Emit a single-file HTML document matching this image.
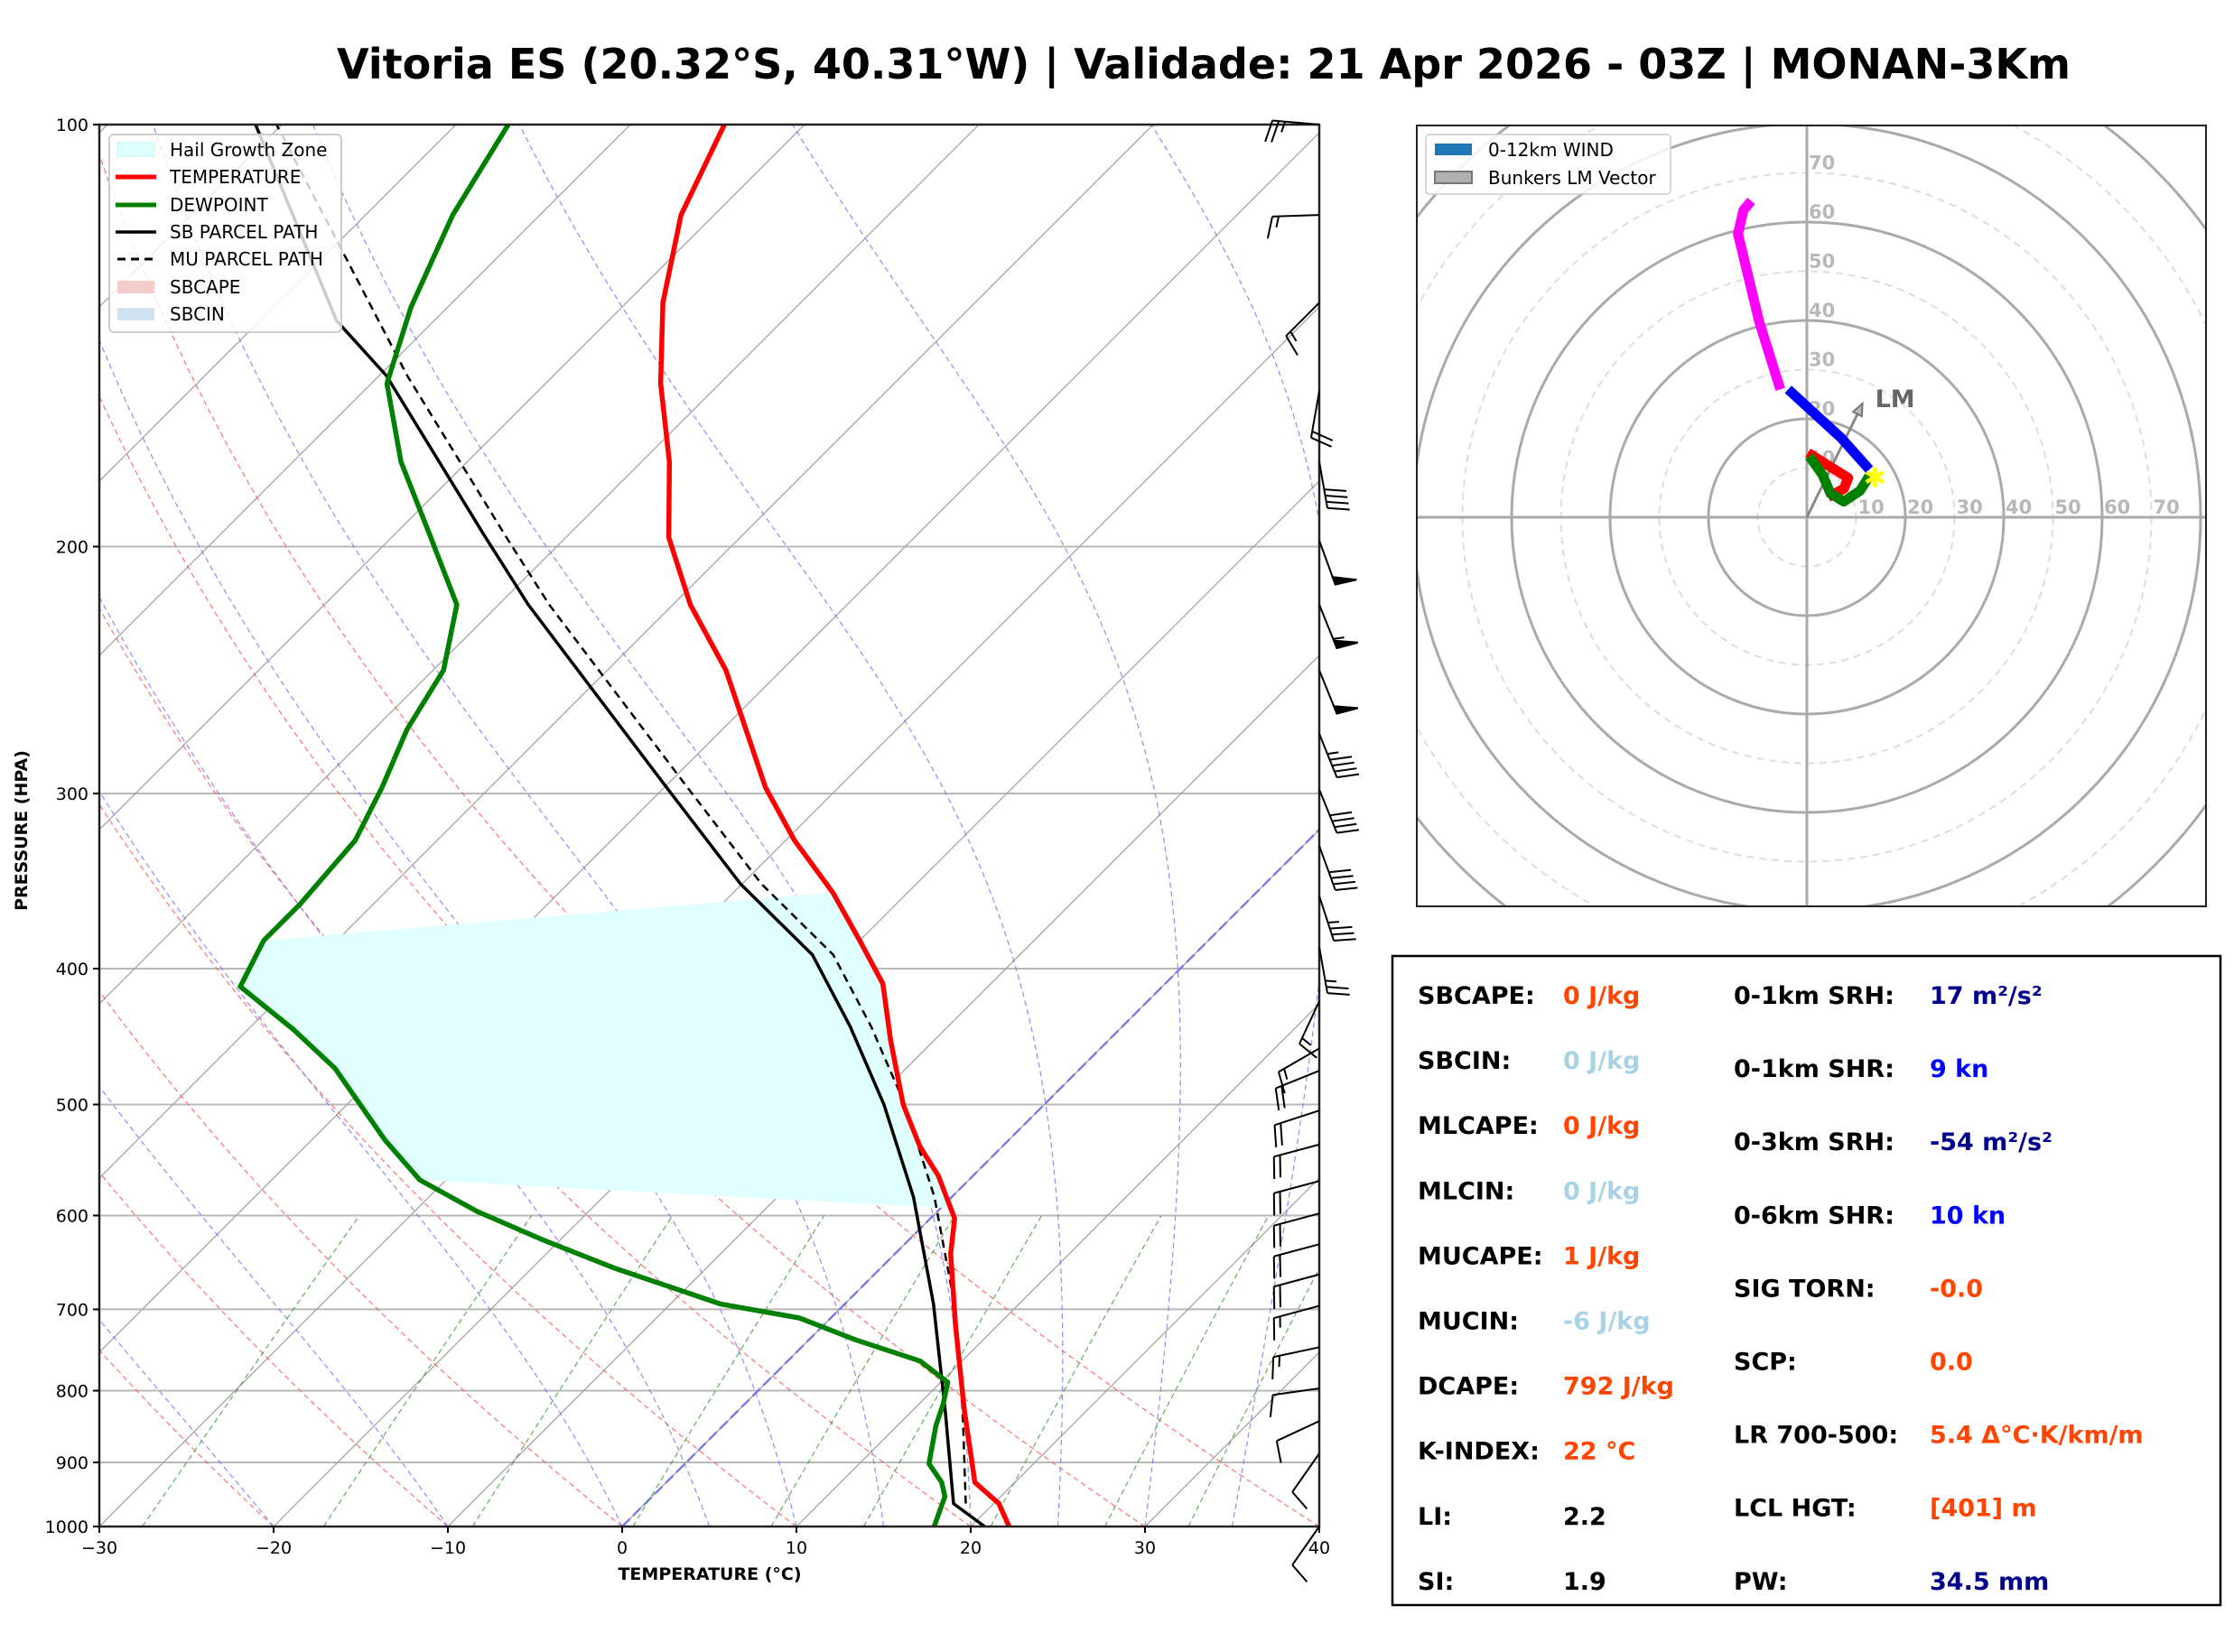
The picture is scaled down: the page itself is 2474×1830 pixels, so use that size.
<!DOCTYPE html>
<html><head><meta charset="utf-8"><style>
html,body{margin:0;padding:0;background:#fff}
svg{display:block;font-family:"DejaVu Sans","Liberation Sans",sans-serif}
</style></head><body>
<svg id="s" width="2474" height="1830" viewBox="0 0 2474 1830" xmlns="http://www.w3.org/2000/svg">
<rect width="2474" height="1830" fill="#fff"/>
<text x="1333" y="87" text-anchor="middle" font-size="46" font-weight="bold" textLength="1920" lengthAdjust="spacingAndGlyphs">Vitoria ES (20.32°S, 40.31°W) | Validade: 21 Apr 2026 - 03Z | MONAN-3Km</text>
<defs>
<clipPath id="cp"><rect x="110" y="138" width="1351" height="1553"/></clipPath>
<clipPath id="ch"><rect x="1569" y="139" width="874" height="865"/></clipPath>
</defs>
<g id="bg" clip-path="url(#cp)"></g>
<g id="data" clip-path="url(#cp)"></g>
<g id="axes"></g>
<g id="barbs"></g>
<text x="786" y="1750" text-anchor="middle" font-size="19" font-weight="bold">TEMPERATURE (°C)</text>
<text x="0" y="0" transform="translate(30,920) rotate(-90)" text-anchor="middle" font-size="19" font-weight="bold">PRESSURE (HPA)</text>
<g>
<rect x="121" y="149" width="257" height="219" rx="5" fill="#fff" fill-opacity="0.8" stroke="#ccc" stroke-width="2"/>
<g font-size="20">
<rect x="130" y="158" width="41" height="15" fill="#e0ffff" stroke="#b8f8f8"/><text x="188" y="173">Hail Growth Zone</text>
<line x1="128" y1="196" x2="173" y2="196" stroke="red" stroke-width="5"/><text x="188" y="203">TEMPERATURE</text>
<line x1="128" y1="227" x2="173" y2="227" stroke="green" stroke-width="5"/><text x="188" y="234">DEWPOINT</text>
<line x1="128" y1="257" x2="173" y2="257" stroke="#000" stroke-width="3.5"/><text x="188" y="264">SB PARCEL PATH</text>
<line x1="130" y1="287" x2="173" y2="287" stroke="#000" stroke-width="3" stroke-dasharray="9,6"/><text x="188" y="294">MU PARCEL PATH</text>
<rect x="130" y="311" width="41" height="14" fill="#f4cccc"/><text x="188" y="325">SBCAPE</text>
<rect x="130" y="341" width="41" height="14" fill="#cfe2ee"/><text x="188" y="355">SBCIN</text>
</g></g>
<g id="hodo">
<rect x="1569" y="139" width="874" height="865" fill="#fff"/>
<g id="hodoin" clip-path="url(#ch)"></g>
<rect x="1569" y="139" width="874" height="865" fill="none" stroke="#222" stroke-width="2"/>
</g>
<g>
<rect x="1579" y="149" width="271" height="66" rx="4" fill="#fff" fill-opacity="0.85" stroke="#ccc" stroke-width="1.5"/>
<rect x="1589" y="159" width="41" height="13" fill="#1f77b4"/><text x="1648" y="173" font-size="20">0-12km WIND</text>
<rect x="1589" y="190" width="41" height="13" fill="#b0b0b0" stroke="#777" stroke-width="2"/><text x="1648" y="204" font-size="20">Bunkers LM Vector</text>
</g>
<g id="stats">
<rect x="1542" y="1059" width="917" height="719" fill="#fff" stroke="#000" stroke-width="2.5"/>
</g>
</svg>
<script>
var NS='http://www.w3.org/2000/svg';
// ---- data ----
var tempP=[1000,963,930,898,827,719,639,603,562,536,500,450,410,382,353,324,297,245,220,197,174,153,134,116,100];
var tempT=[22.2,20.3,17.7,16.3,13.0,7.6,3.2,1.4,-2.0,-4.7,-8.1,-12.5,-16.2,-20,-24.3,-29.5,-34.2,-43.2,-49,-54.1,-58.4,-63.4,-67.9,-71.9,-74.6];
var dewP=[1000,952,930,902,847,818,789,762,736,710,694,654,624,596,566,530,471,442,412,382,360,324,297,270,245,220,196,174,153,135,116,100];
var dewT=[17.9,16.8,15.8,14.0,12.2,11.4,10.4,7.6,2.7,-1.8,-7.1,-15.3,-21.1,-26.4,-31.5,-35.8,-42.8,-47.4,-52.9,-54.2,-54.2,-54.7,-56.2,-58.1,-59.4,-62.4,-68,-73.8,-79.1,-82.1,-85,-87];
var sbP=[1000,963,827,694,582,500,440,391,348,295,220,196,151,138,100];
var sbT=[20.8,17.7,11.9,5.1,-2.2,-9.2,-15.6,-21.9,-30.1,-40.3,-58.3,-64.9,-79.6,-85.6,-101.5];
var muP=[963,827,694,582,500,440,391,348,295,220,196,151,100];
var muT=[18.4,12.9,6.3,-1.0,-8.0,-14.4,-20.7,-28.9,-39.1,-57.1,-63.7,-78.4,-100.3];
var pTicks=[100,200,300,400,500,600,700,800,900,1000];
var tTicks=[-30,-20,-10,0,10,20,30,40];
var barbP=[100,116,134,155,174,198,220,245,272,298,327,355,386,422,456,473,505,534,567,598,629,661,696,745,797,841,887,1000];
var barbDir=[275,268,225,190,170,160,158,158,158,158,160,162,170,205,240,248,252,255,255,255,255,255,255,258,262,245,215,215];
var barbSpd=[25,15,15,20,40,50,55,50,45,40,40,35,25,15,15,20,20,20,20,20,20,20,15,15,10,10,10,10];
var hodoRedU=[0.2,8.4,7.5,4.3], hodoRedV=[13.1,8.0,5.8,4.1];
var hodoGreenU=[0.5,3.2,4.8,7.5,10.8,12.7], hodoGreenV=[12.4,8.6,4.8,3.2,5.4,8.4];
var hodoBlueU=[12.7,7.0,1.1,-3.8], hodoBlueV=[9.7,16.1,21.5,26.0];
var hodoMagU=[-5.4,-9.7,-14.0,-12.9,-11.3], hodoMagV=[26.0,39.8,57.6,62.4,64.3];
var stormU=[13.8], stormV=[8.0];
var lmU=[11.3], lmV=[23.1];
var hodoRings=[10,20,30,40,50,60,70,80,90,100];
var statL=[['SBCAPE:','0 J/kg','#ff4500'],['SBCIN:','0 J/kg','#a8d2e6'],['MLCAPE:','0 J/kg','#ff4500'],['MLCIN:','0 J/kg','#a8d2e6'],['MUCAPE:','1 J/kg','#ff4500'],['MUCIN:','-6 J/kg','#a8d2e6'],['DCAPE:','792 J/kg','#ff4500'],['K-INDEX:','22 °C','#ff4500'],['LI:','2.2','#000'],['SI:','1.9','#000']];
var statR=[['0-1km SRH:','17 m²/s²','#00008b'],['0-1km SHR:','9 kn','#0000ff'],['0-3km SRH:','-54 m²/s²','#00008b'],['0-6km SHR:','10 kn','#0000ff'],['SIG TORN:','-0.0','#ff4500'],['SCP:','0.0','#ff4500'],['LR 700-500:','5.4 Δ°C·K/km/m','#ff4500'],['LCL HGT:','[401] m','#ff4500'],['PW:','34.5 mm','#00008b']];

// ---- helpers ----
function yP(p){return 1691-Math.log10(1000/p)*1553;}
function xT(t,p){return 110+(t+30)*19.3+(1691-yP(p));}
function el(tag,at,par){var e=document.createElementNS(NS,tag);for(var k in at)e.setAttribute(k,at[k]);par.appendChild(e);return e;}
function path(ps,ts){var d='';for(var i=0;i<ps.length;i++)d+=(i?'L':'M')+xT(ts[i],ps[i]).toFixed(1)+','+yP(ps[i]).toFixed(1);return d;}
var bg=document.getElementById('bg'),dg=document.getElementById('data'),axg=document.getElementById('axes');

pTicks.forEach(function(p){var l=el('line',{x1:110,x2:1461,y1:yP(p),y2:yP(p),stroke:'#b8b8b8','stroke-width':2},bg);

});
for(var t=-130;t<=40;t+=10){var l=el('path',{d:path([1000,100],[t,t]),stroke:'#a0a0a0','stroke-width':1.2,fill:'none'},bg);

}
var lev=[];for(var p=1000;p>=100;p-=10)lev.push(p);
for(var t0=-30;t0<=40;t0+=10){var ts=lev.map(function(p){return (t0+273.15)*Math.pow(p/1000,0.286)-273.15;});
var l=el('path',{d:path(lev,ts),stroke:'#ff5050','stroke-width':1.2,fill:'none','stroke-dasharray':'6,4','stroke-opacity':0.8},bg);

}
function es(T){return 6.112*Math.exp(17.67*T/(T+243.5));}
[-20,-10,0,5,10,15,20,25,30,35].forEach(function(t0){var T=t0+273.15,ps=[],ts=[];
for(var p=1000;p>=100;p-=5){ps.push(p);ts.push(T-273.15);var e=es(T-273.15),rs=0.622*e/(p-e);
var dTdp=(287*T+2.5e6*rs)/(p*(1005+2.5e6*2.5e6*rs*0.622/(287*T*T)));T-=dTdp*5;}
var l=el('path',{d:path(ps,ts),stroke:'#7070ff','stroke-width':1.2,fill:'none','stroke-dasharray':'6,4','stroke-opacity':0.8},bg);

});
var zi=el('path',{d:path([1000,100],[0,0]),stroke:'#6a6aee','stroke-width':2.5,fill:'none','stroke-dasharray':'12,5','stroke-opacity':0.8},bg);


[0.4,1,2,4,7,10,16,24,32].forEach(function(w){var ps=[],ts=[];for(var p=1000;p>=600;p-=20){var e=w*p/(622+w),a=Math.log(e/6.112);ps.push(p);ts.push(243.5*a/(17.67-a));}
var l=el('path',{d:path(ps,ts),stroke:'#3a9a3a','stroke-width':1.2,fill:'none','stroke-dasharray':'6,4','stroke-opacity':0.8},bg);

});

function interp(ps,ts,p){for(var i=0;i<ps.length-1;i++){if(p<=ps[i]&&p>=ps[i+1]){var f=(Math.log(p)-Math.log(ps[i]))/(Math.log(ps[i+1])-Math.log(ps[i]));return ts[i]+f*(ts[i+1]-ts[i]);}}return ts[ts.length-1];}
var hd='';for(var p=566;p>=382;p-=4){hd+=(hd?'L':'M')+xT(interp(dewP,dewT,p),p)+','+yP(p);}
for(var p=353;p<=596;p+=4){hd+='L'+xT(interp(tempP,tempT,p),p)+','+yP(p);}
var hz=el('path',{d:hd+'Z',fill:'#e0ffff',stroke:'none'},dg);


var c1=el('path',{d:path(sbP,sbT),stroke:'#000',fill:'none','stroke-width':3.5},dg);


var c2=el('path',{d:path(muP,muT),stroke:'#000',fill:'none','stroke-width':2.5,'stroke-dasharray':'9,6'},dg);


var c3=el('path',{d:path(tempP,tempT),stroke:'red',fill:'none','stroke-width':5.5,'stroke-linejoin':'round'},dg);


var c4=el('path',{d:path(dewP,dewT),stroke:'green',fill:'none','stroke-width':5.5,'stroke-linejoin':'round'},dg);



el('rect',{x:110,y:138,width:1351,height:1553,fill:'none',stroke:'#222','stroke-width':2.5},axg);
pTicks.forEach(function(p){el('line',{x1:103,x2:110,y1:yP(p),y2:yP(p),stroke:'#000','stroke-width':2},axg);
var tx=el('text',{x:98,y:yP(p)+7,'text-anchor':'end','font-size':19},axg);tx.textContent=p;

});
tTicks.forEach(function(t){var x=110+(t+30)*19.3;el('line',{x1:x,x2:x,y1:1691,y2:1698,stroke:'#000','stroke-width':2},axg);
var tx=el('text',{x:x,y:1721,'text-anchor':'middle','font-size':19},axg);tx.textContent=(t<0?'\u2212'+(-t):t);

});

var bgp=document.getElementById('barbs');
barbP.forEach(function(p,i){var d=barbDir[i]*Math.PI/180,sx=Math.sin(d),sy=-Math.cos(d),x0=1461,y0=yP(p),L=52;
var tx=x0+sx*L,ty=y0+sy*L,bx=sy,by=-sx;var g=el('g',{stroke:'#000','stroke-width':2,fill:'#000'},bgp);


el('line',{x1:x0,y1:y0,x2:tx,y2:ty},g);
var s=Math.round(barbSpd[i]/5)*5,pos=0,fl=Math.floor(s/50);s-=fl*50;var fu=Math.floor(s/10);s-=fu*10;var hf=s>=5;
for(var j=0;j<fl;j++){var a1=tx-sx*pos,b1=ty-sy*pos;el('polygon',{points:a1+','+b1+' '+(a1-sx*9)+','+(b1-sy*9)+' '+(a1+bx*24+sx*3)+','+(b1+by*24+sy*3)},g);pos+=11;}
for(var j=0;j<fu;j++){var a1=tx-sx*pos,b1=ty-sy*pos;el('line',{x1:a1,y1:b1,x2:a1+bx*24+sx*6,y2:b1+by*24+sy*6},g);pos+=7;}
if(hf){if(pos==0)pos=7;var a1=tx-sx*pos,b1=ty-sy*pos;el('line',{x1:a1,y1:b1,x2:a1+bx*12+sx*3,y2:b1+by*12+sy*3},g);}
});

var hg=document.getElementById('hodoin'),cx=2001,cy=573,kk=5.45;
hodoRings.forEach(function(r){var c=el('circle',{cx:cx,cy:cy,r:r*kk,fill:'none',stroke:r%20==0?'#aaa':'#ddd','stroke-width':r%20==0?3:2,'stroke-dasharray':r%20==0?'none':'8,6'},hg);

});
el('line',{x1:1569,x2:2443,y1:cy,y2:cy,stroke:'#aaa','stroke-width':3},hg);
el('line',{x1:cx,x2:cx,y1:139,y2:1004,stroke:'#aaa','stroke-width':3},hg);
hodoRings.slice(0,7).forEach(function(r){var t1=el('text',{x:cx+r*kk+2,y:cy-4,'font-size':21,'font-weight':'bold',fill:'#b8b8b8'},hg);t1.textContent=r;


var t2=el('text',{x:cx+2,y:cy-r*kk-4,'font-size':21,'font-weight':'bold',fill:'#b8b8b8'},hg);t2.textContent=r;

});
function hpath(us,vs){var d='';for(var i=0;i<us.length;i++)d+=(i?'L':'M')+(cx+us[i]*kk).toFixed(1)+','+(cy-vs[i]*kk).toFixed(1);return d;}
var lx=cx+lmU[0]*kk,ly=cy-lmV[0]*kk,ang=Math.atan2(ly-cy,lx-cx);
var la=el('line',{x1:cx,y1:cy,x2:lx,y2:ly,stroke:'#888','stroke-width':3},hg);


var ah=14,p1x=lx-ah*Math.cos(ang-0.4),p1y=ly-ah*Math.sin(ang-0.4),p2x=lx-ah*Math.cos(ang+0.4),p2y=ly-ah*Math.sin(ang+0.4);
el('polygon',{points:lx+','+ly+' '+p1x+','+p1y+' '+p2x+','+p2y,fill:'#bbb',stroke:'#777','stroke-width':2},hg);
var lt=el('text',{x:lx+14,y:ly+4,'font-size':27,'font-weight':'bold',fill:'#666'},hg);lt.textContent='LM';


[[hodoMagU,hodoMagV,'#ff00ff','hodo-6-12km'],[hodoBlueU,hodoBlueV,'#0000ff','hodo-3-6km'],[hodoRedU,hodoRedV,'#ff0000','hodo-0-1km'],[hodoGreenU,hodoGreenV,'#008000','hodo-1-3km']].forEach(function(s){
var l=el('path',{d:hpath(s[0],s[1]),stroke:s[2],'stroke-width':11,fill:'none','stroke-linejoin':'round'},hg);

});
var st=el('text',{x:cx+stormU[0]*kk,y:cy-stormV[0]*kk+10,'font-size':30,fill:'#ffff00','text-anchor':'middle'},hg);st.textContent='✱';



var sg=document.getElementById('stats');
statL.forEach(function(r,i){var y=1112+i*72.1;var a=el('text',{x:1570,y:y,'font-size':27,'font-weight':'bold'},sg);a.textContent=r[0];


var b=el('text',{x:1731,y:y,'font-size':27,'font-weight':'bold',fill:r[2]},sg);b.textContent=r[1];

});
statR.forEach(function(r,i){var y=1112+i*81.1;var a=el('text',{x:1920,y:y,'font-size':27,'font-weight':'bold'},sg);a.textContent=r[0];


var b=el('text',{x:2137,y:y,'font-size':27,'font-weight':'bold',fill:r[2]},sg);b.textContent=r[1];

});
</script>
</body></html>
